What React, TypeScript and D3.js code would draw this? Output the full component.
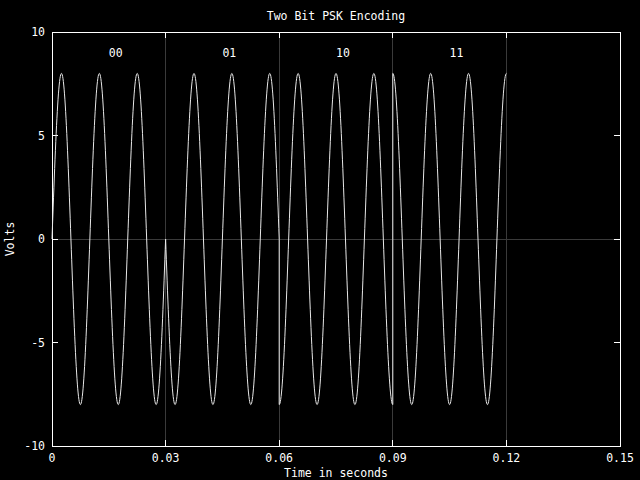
import * as d3 from 'd3';

// chart data
const bitLabels = ['00', '01', '10', '11'];
const segmentStarts = [0, 0.03, 0.06, 0.09];
const segmentEnds = [0.03, 0.06, 0.09, 0.12];
const phaseDeg = [0, 180, 270, 90];
const amplitude = 8;
const carrierHz = 100;
const labelX = [0.015, 0.045, 0.075, 0.105];
const labelY = 9;
const xTicks = [0, 0.03, 0.06, 0.09, 0.12, 0.15];
const xTickLabels = ['0', '0.03', '0.06', '0.09', '0.12', '0.15'];
const yTicks = [-10, -5, 0, 5, 10];
const gridX = [0.03, 0.06, 0.09, 0.12];

// layout
const width = 640;
const height = 480;
const left = 52;
const right = 620;
const top = 32;
const bottom = 446;
const tickLen = 6;
const font = '"DejaVu Sans Mono", monospace';
const fontSize = 11.5;

const x = d3.scaleLinear().domain([0, 0.15]).range([left, right]);
const y = d3.scaleLinear().domain([-10, 10]).range([bottom, top]);

// samples of each phase-shifted segment, joined like gnuplot does
const samples: [number, number][] = [];
segmentStarts.forEach((s, i) => {
  const e = segmentEnds[i];
  const phi = (phaseDeg[i] * Math.PI) / 180;
  const n = 300;
  for (let k = 0; k <= n; k++) {
    const t = s + ((e - s) * k) / n;
    samples.push([t, amplitude * Math.sin(2 * Math.PI * carrierHz * t + phi)]);
  }
});

const line = d3.line<[number, number]>()
  .x(d => x(d[0]))
  .y(d => y(d[1]));

export default function App() {
  return (
    <svg width={width} height={height} style={{display: 'block', position: 'absolute', left: 0, top: 0, background: '#000'}}>
      <rect x={0} y={0} width={width} height={height} fill="#000" />
      {/* grid */}
      {gridX.map(v => (
        <line key={'g' + v} x1={x(v)} x2={x(v)} y1={top} y2={bottom} stroke="#3a3a3a" shapeRendering="crispEdges" />
      ))}
      <line x1={left} x2={right} y1={y(0)} y2={y(0)} stroke="#3a3a3a" shapeRendering="crispEdges" />
      {/* ticks */}
      {xTicks.map(v => (
        <g key={'xt' + v}>
          <line x1={x(v)} x2={x(v)} y1={bottom} y2={bottom - tickLen} stroke="#fff" shapeRendering="crispEdges" />
          <line x1={x(v)} x2={x(v)} y1={top} y2={top + tickLen} stroke="#fff" shapeRendering="crispEdges" />
        </g>
      ))}
      {yTicks.map(v => (
        <g key={'yt' + v}>
          <line x1={left} x2={left + tickLen} y1={y(v)} y2={y(v)} stroke="#fff" shapeRendering="crispEdges" />
          <line x1={right} x2={right - tickLen} y1={y(v)} y2={y(v)} stroke="#fff" shapeRendering="crispEdges" />
        </g>
      ))}
      {/* frame */}
      <rect x={left} y={top} width={right - left} height={bottom - top} fill="none" stroke="#fff" shapeRendering="crispEdges" />
      {/* signal */}
      <path d={line(samples) || ''} fill="none" stroke="#e8e8e8" strokeWidth={1} />
      {/* tick labels */}
      <g fill="#fff" fontFamily={font} fontSize={fontSize}>
        {xTicks.map((v, i) => (
          <text key={'xl' + v} x={x(v)} y={bottom + 16} textAnchor="middle">{xTickLabels[i]}</text>
        ))}
        {yTicks.map(v => (
          <text key={'yl' + v} x={left - 7} y={y(v)} dy="0.35em" textAnchor="end">{v}</text>
        ))}
        {bitLabels.map((b, i) => (
          <text key={'b' + b} x={x(labelX[i])} y={y(labelY)} dy="0.35em">{b}</text>
        ))}
        <text x={(left + right) / 2} y={20} textAnchor="middle">Two Bit PSK Encoding</text>
        <text x={(left + right) / 2} y={477} textAnchor="middle">Time in seconds</text>
        <text transform={`translate(14,${y(0)}) rotate(-90)`} textAnchor="middle">Volts</text>
      </g>
    </svg>
  );
}
